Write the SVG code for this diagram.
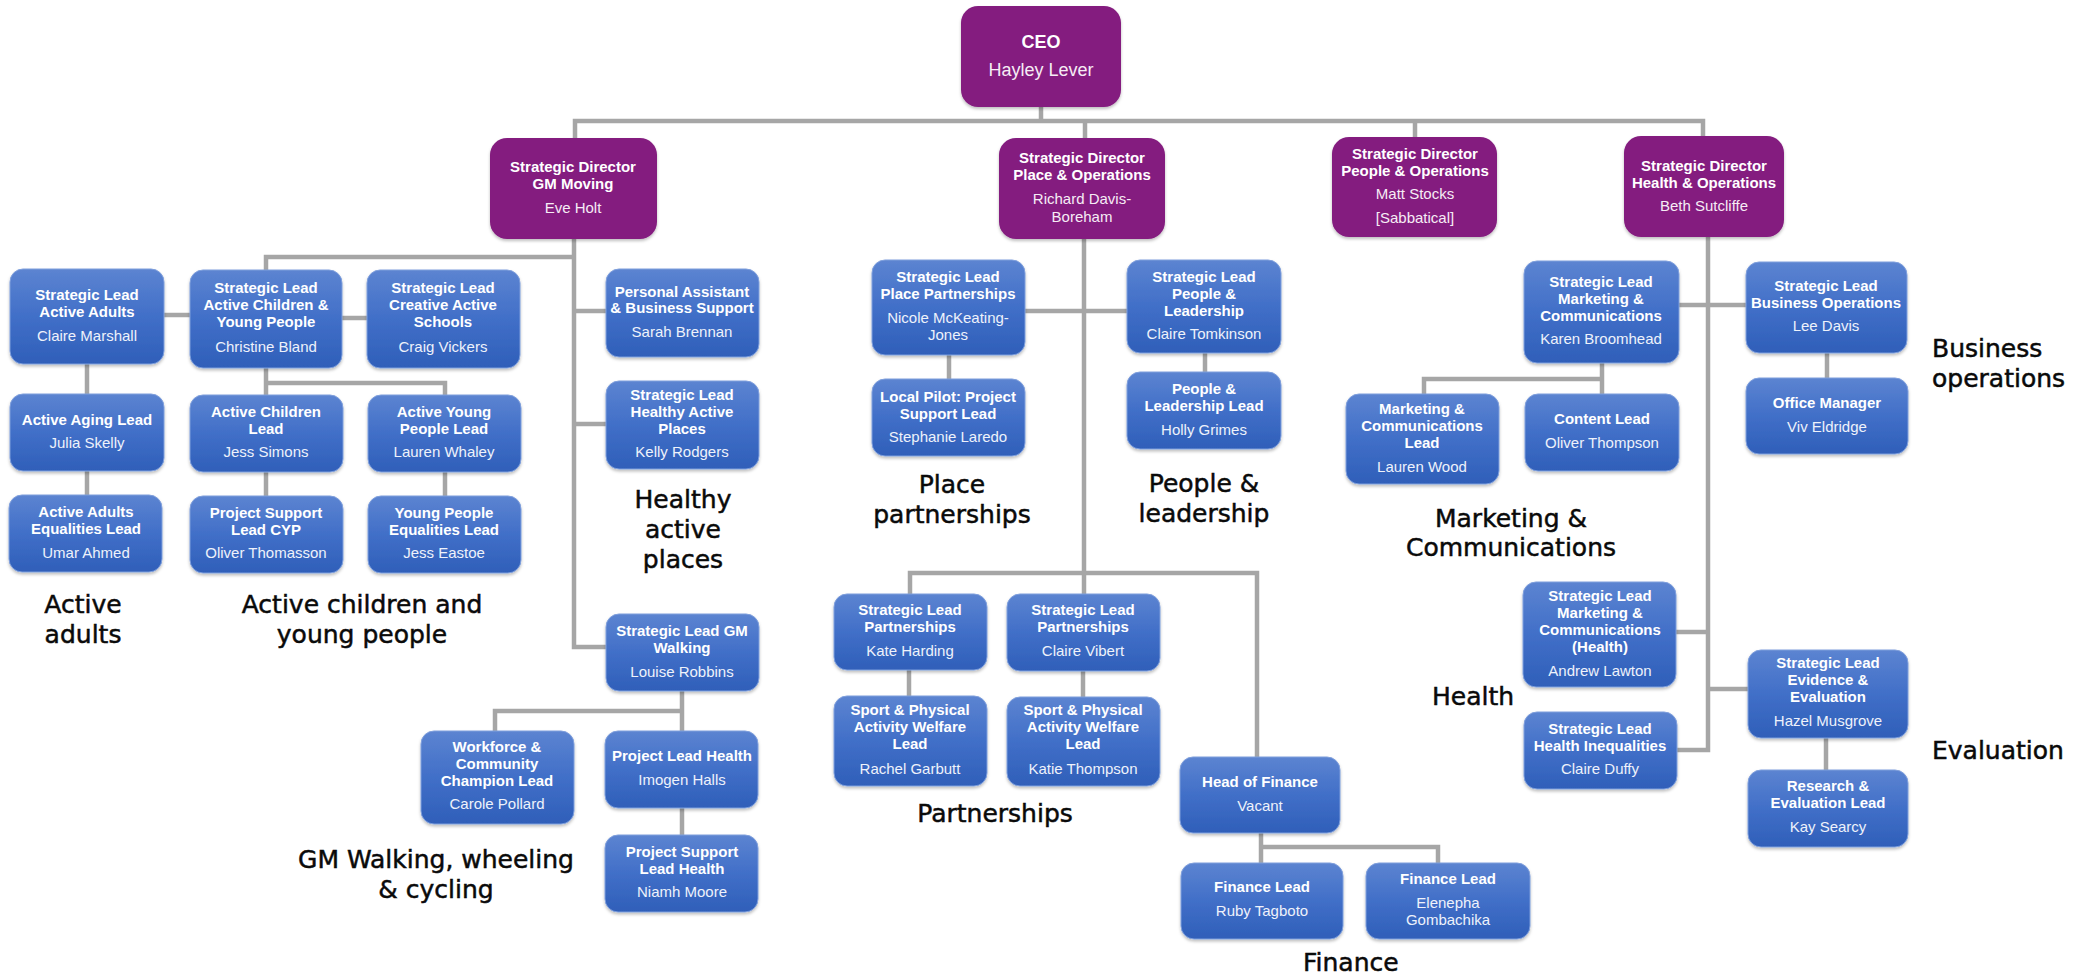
<svg xmlns="http://www.w3.org/2000/svg" width="2094" height="977" viewBox="0 0 2094 977">
<style>
.conn{fill:none;stroke:#a6a6a6;stroke-width:4.5;stroke-linejoin:miter}
.b{fill:url(#blueg);stroke:#7f9fdc;stroke-width:1;filter:url(#sh)}
.p{fill:#841e7f;filter:url(#sh)}
.t{font-family:"Liberation Sans",Arial,sans-serif;font-size:15px;font-weight:bold;fill:#ffffff;text-anchor:middle}
.n{font-family:"Liberation Sans",Arial,sans-serif;font-size:15px;fill:#eef2fb;text-anchor:middle}
.pn{font-family:"Liberation Sans",Arial,sans-serif;font-size:15px;fill:#f6ecf5;text-anchor:middle}
.lab{font-family:"DejaVu Sans","Liberation Sans",sans-serif;font-size:25px;fill:#0a0a0a;stroke:#0a0a0a;stroke-width:0.5;text-anchor:middle}
.labl{font-family:"DejaVu Sans","Liberation Sans",sans-serif;font-size:25px;fill:#0a0a0a;stroke:#0a0a0a;stroke-width:0.5;text-anchor:start}
</style>
<defs>
<linearGradient id="blueg" x1="0" y1="0" x2="0" y2="1">
<stop offset="0" stop-color="#5c84d1"/>
<stop offset="0.5" stop-color="#416fc8"/>
<stop offset="1" stop-color="#2f5fb9"/>
</linearGradient>
<filter id="sh" x="-10%" y="-10%" width="120%" height="130%">
<feDropShadow dx="0" dy="2" stdDeviation="1.5" flood-color="#000" flood-opacity="0.25"/>
</filter>
</defs>
<rect width="2094" height="977" fill="#ffffff"/>

<g id="connectors">
<path class="conn" d="M1041 107 V121"/>
<path class="conn" d="M575 138 V121 H1703 V136"/>
<path class="conn" d="M1085 121 V138"/>
<path class="conn" d="M1415 121 V137"/>
<path class="conn" d="M574 239 V647 H606"/>
<path class="conn" d="M266 270 V257 H574"/>
<path class="conn" d="M574 311 H606"/>
<path class="conn" d="M574 424 H606"/>
<path class="conn" d="M164 315 H190"/>
<path class="conn" d="M342 318 H367"/>
<path class="conn" d="M87 364 V394"/>
<path class="conn" d="M87 471 V495"/>
<path class="conn" d="M266 368 V395"/>
<path class="conn" d="M266 383 H445 V395"/>
<path class="conn" d="M266 472 V496"/>
<path class="conn" d="M445 472 V496"/>
<path class="conn" d="M682 691 V731"/>
<path class="conn" d="M682 711 H495 V731"/>
<path class="conn" d="M682 808 V835"/>
<path class="conn" d="M1084 239 V594"/>
<path class="conn" d="M1025 311 H1127"/>
<path class="conn" d="M910 594 V573 H1257 V757"/>
<path class="conn" d="M949 355 V379"/>
<path class="conn" d="M1205 353 V372"/>
<path class="conn" d="M909 670 V696"/>
<path class="conn" d="M1083 671 V697"/>
<path class="conn" d="M1261 833 V863"/>
<path class="conn" d="M1261 847 H1438 V863"/>
<path class="conn" d="M1708 237 V750 H1677"/>
<path class="conn" d="M1679 305 H1746"/>
<path class="conn" d="M1676 632 H1708"/>
<path class="conn" d="M1708 689 H1748"/>
<path class="conn" d="M1602 363 V394"/>
<path class="conn" d="M1602 379 H1424 V394"/>
<path class="conn" d="M1827 353 V378"/>
<path class="conn" d="M1826 738 V770"/>
</g>

<g id="ceo">
<rect class="p" x="961" y="6" width="160" height="101" rx="17"/>
<text class="t" x="1041" y="48" style="font-size:18px">CEO</text>
<text class="pn" x="1041" y="76" style="font-size:18px">Hayley Lever</text>
</g>
<g id="sd-gm-moving">
<rect class="p" x="490" y="138" width="167" height="101" rx="17"/>
<text class="t" x="573" y="172">Strategic Director</text>
<text class="t" x="573" y="189">GM Moving</text>
<text class="pn" x="573" y="213">Eve Holt</text>
</g>
<g id="sd-place-ops">
<rect class="p" x="999" y="138" width="166" height="101" rx="17"/>
<text class="t" x="1082" y="163">Strategic Director</text>
<text class="t" x="1082" y="180">Place &amp; Operations</text>
<text class="pn" x="1082" y="204">Richard Davis-</text>
<text class="pn" x="1082" y="222">Boreham</text>
</g>
<g id="sd-people-ops">
<rect class="p" x="1332" y="137" width="165" height="100" rx="17"/>
<text class="t" x="1415" y="159">Strategic Director</text>
<text class="t" x="1415" y="176">People &amp; Operations</text>
<text class="pn" x="1415" y="199">Matt Stocks</text>
<text class="pn" x="1415" y="223">[Sabbatical]</text>
</g>
<g id="sd-health-ops">
<rect class="p" x="1624" y="136" width="160" height="101" rx="17"/>
<text class="t" x="1704" y="171">Strategic Director</text>
<text class="t" x="1704" y="188">Health &amp; Operations</text>
<text class="pn" x="1704" y="211">Beth Sutcliffe</text>
</g>

<g id="sl-active-adults">
<rect class="b" x="10" y="269" width="154" height="95" rx="13"/>
<text class="t" x="87" y="300">Strategic Lead</text>
<text class="t" x="87" y="317">Active Adults</text>
<text class="n" x="87" y="341">Claire Marshall</text>
</g>
<g id="sl-active-children">
<rect class="b" x="190" y="270" width="152" height="98" rx="13"/>
<text class="t" x="266" y="293">Strategic Lead</text>
<text class="t" x="266" y="310">Active Children &amp;</text>
<text class="t" x="266" y="327">Young People</text>
<text class="n" x="266" y="352">Christine Bland</text>
</g>
<g id="sl-creative">
<rect class="b" x="367" y="270" width="153" height="98" rx="13"/>
<text class="t" x="443" y="293">Strategic Lead</text>
<text class="t" x="443" y="310">Creative Active</text>
<text class="t" x="443" y="327">Schools</text>
<text class="n" x="443" y="352">Craig Vickers</text>
</g>
<g id="active-aging">
<rect class="b" x="10" y="394" width="154" height="77" rx="13"/>
<text class="t" x="87" y="425">Active Aging Lead</text>
<text class="n" x="87" y="448">Julia Skelly</text>
</g>
<g id="active-adults-eq">
<rect class="b" x="9" y="495" width="153" height="77" rx="13"/>
<text class="t" x="86" y="517">Active Adults</text>
<text class="t" x="86" y="534">Equalities Lead</text>
<text class="n" x="86" y="558">Umar Ahmed</text>
</g>
<g id="active-children-lead">
<rect class="b" x="190" y="395" width="153" height="77" rx="13"/>
<text class="t" x="266" y="417">Active Children</text>
<text class="t" x="266" y="434">Lead</text>
<text class="n" x="266" y="457">Jess Simons</text>
</g>
<g id="active-young-lead">
<rect class="b" x="368" y="395" width="153" height="77" rx="13"/>
<text class="t" x="444" y="417">Active Young</text>
<text class="t" x="444" y="434">People Lead</text>
<text class="n" x="444" y="457">Lauren Whaley</text>
</g>
<g id="project-support-cyp">
<rect class="b" x="190" y="496" width="153" height="77" rx="13"/>
<text class="t" x="266" y="518">Project Support</text>
<text class="t" x="266" y="535">Lead CYP</text>
<text class="n" x="266" y="558">Oliver Thomasson</text>
</g>
<g id="young-people-eq">
<rect class="b" x="368" y="496" width="153" height="77" rx="13"/>
<text class="t" x="444" y="518">Young People</text>
<text class="t" x="444" y="535">Equalities Lead</text>
<text class="n" x="444" y="558">Jess Eastoe</text>
</g>
<g id="pa-business-support">
<rect class="b" x="606" y="269" width="153" height="88" rx="13"/>
<text class="t" x="682" y="297">Personal Assistant</text>
<text class="t" x="682" y="313">&amp; Business Support</text>
<text class="n" x="682" y="337">Sarah Brennan</text>
</g>
<g id="sl-healthy-active">
<rect class="b" x="606" y="381" width="153" height="88" rx="13"/>
<text class="t" x="682" y="400">Strategic Lead</text>
<text class="t" x="682" y="417">Healthy Active</text>
<text class="t" x="682" y="434">Places</text>
<text class="n" x="682" y="457">Kelly Rodgers</text>
</g>
<g id="sl-gm-walking">
<rect class="b" x="606" y="614" width="153" height="77" rx="13"/>
<text class="t" x="682" y="636">Strategic Lead GM</text>
<text class="t" x="682" y="653">Walking</text>
<text class="n" x="682" y="677">Louise Robbins</text>
</g>
<g id="workforce-champion">
<rect class="b" x="421" y="731" width="153" height="93" rx="13"/>
<text class="t" x="497" y="752">Workforce &amp;</text>
<text class="t" x="497" y="769">Community</text>
<text class="t" x="497" y="786">Champion Lead</text>
<text class="n" x="497" y="809">Carole Pollard</text>
</g>
<g id="project-lead-health">
<rect class="b" x="605" y="731" width="153" height="77" rx="13"/>
<text class="t" x="682" y="761">Project Lead Health</text>
<text class="n" x="682" y="785">Imogen Halls</text>
</g>
<g id="project-support-health">
<rect class="b" x="605" y="835" width="153" height="77" rx="13"/>
<text class="t" x="682" y="857">Project Support</text>
<text class="t" x="682" y="874">Lead Health</text>
<text class="n" x="682" y="897">Niamh Moore</text>
</g>
<g id="sl-place-partnerships">
<rect class="b" x="872" y="260" width="153" height="95" rx="13"/>
<text class="t" x="948" y="282">Strategic Lead</text>
<text class="t" x="948" y="299">Place Partnerships</text>
<text class="n" x="948" y="323">Nicole McKeating-</text>
<text class="n" x="948" y="340">Jones</text>
</g>
<g id="local-pilot">
<rect class="b" x="872" y="379" width="153" height="77" rx="13"/>
<text class="t" x="948" y="402">Local Pilot: Project</text>
<text class="t" x="948" y="419">Support Lead</text>
<text class="n" x="948" y="442">Stephanie Laredo</text>
</g>
<g id="sl-people-leadership">
<rect class="b" x="1127" y="260" width="154" height="93" rx="13"/>
<text class="t" x="1204" y="282">Strategic Lead</text>
<text class="t" x="1204" y="299">People &amp;</text>
<text class="t" x="1204" y="316">Leadership</text>
<text class="n" x="1204" y="339">Claire Tomkinson</text>
</g>
<g id="people-leadership-lead">
<rect class="b" x="1127" y="372" width="154" height="77" rx="13"/>
<text class="t" x="1204" y="394">People &amp;</text>
<text class="t" x="1204" y="411">Leadership Lead</text>
<text class="n" x="1204" y="435">Holly Grimes</text>
</g>
<g id="sl-partnerships-kate">
<rect class="b" x="834" y="594" width="153" height="76" rx="13"/>
<text class="t" x="910" y="615">Strategic Lead</text>
<text class="t" x="910" y="632">Partnerships</text>
<text class="n" x="910" y="656">Kate Harding</text>
</g>
<g id="sl-partnerships-claire">
<rect class="b" x="1007" y="594" width="153" height="77" rx="13"/>
<text class="t" x="1083" y="615">Strategic Lead</text>
<text class="t" x="1083" y="632">Partnerships</text>
<text class="n" x="1083" y="656">Claire Vibert</text>
</g>
<g id="welfare-rachel">
<rect class="b" x="834" y="696" width="153" height="90" rx="13"/>
<text class="t" x="910" y="715">Sport &amp; Physical</text>
<text class="t" x="910" y="732">Activity Welfare</text>
<text class="t" x="910" y="749">Lead</text>
<text class="n" x="910" y="774">Rachel Garbutt</text>
</g>
<g id="welfare-katie">
<rect class="b" x="1007" y="697" width="153" height="89" rx="13"/>
<text class="t" x="1083" y="715">Sport &amp; Physical</text>
<text class="t" x="1083" y="732">Activity Welfare</text>
<text class="t" x="1083" y="749">Lead</text>
<text class="n" x="1083" y="774">Katie Thompson</text>
</g>
<g id="head-of-finance">
<rect class="b" x="1180" y="757" width="160" height="76" rx="13"/>
<text class="t" x="1260" y="787">Head of Finance</text>
<text class="n" x="1260" y="811">Vacant</text>
</g>
<g id="finance-ruby">
<rect class="b" x="1181" y="863" width="162" height="76" rx="13"/>
<text class="t" x="1262" y="892">Finance Lead</text>
<text class="n" x="1262" y="916">Ruby Tagboto</text>
</g>
<g id="finance-elenepha">
<rect class="b" x="1366" y="863" width="164" height="76" rx="13"/>
<text class="t" x="1448" y="884">Finance Lead</text>
<text class="n" x="1448" y="908">Elenepha</text>
<text class="n" x="1448" y="925">Gombachika</text>
</g>
<g id="sl-marketing">
<rect class="b" x="1524" y="261" width="155" height="102" rx="13"/>
<text class="t" x="1601" y="287">Strategic Lead</text>
<text class="t" x="1601" y="304">Marketing &amp;</text>
<text class="t" x="1601" y="321">Communications</text>
<text class="n" x="1601" y="344">Karen Broomhead</text>
</g>
<g id="marketing-lead">
<rect class="b" x="1346" y="394" width="153" height="90" rx="13"/>
<text class="t" x="1422" y="414">Marketing &amp;</text>
<text class="t" x="1422" y="431">Communications</text>
<text class="t" x="1422" y="448">Lead</text>
<text class="n" x="1422" y="472">Lauren Wood</text>
</g>
<g id="content-lead">
<rect class="b" x="1525" y="394" width="154" height="77" rx="13"/>
<text class="t" x="1602" y="424">Content Lead</text>
<text class="n" x="1602" y="448">Oliver Thompson</text>
</g>
<g id="sl-business-ops">
<rect class="b" x="1746" y="262" width="161" height="91" rx="13"/>
<text class="t" x="1826" y="291">Strategic Lead</text>
<text class="t" x="1826" y="308">Business Operations</text>
<text class="n" x="1826" y="331">Lee Davis</text>
</g>
<g id="office-manager">
<rect class="b" x="1746" y="378" width="162" height="76" rx="13"/>
<text class="t" x="1827" y="408">Office Manager</text>
<text class="n" x="1827" y="432">Viv Eldridge</text>
</g>
<g id="sl-marketing-health">
<rect class="b" x="1523" y="582" width="153" height="105" rx="13"/>
<text class="t" x="1600" y="601">Strategic Lead</text>
<text class="t" x="1600" y="618">Marketing &amp;</text>
<text class="t" x="1600" y="635">Communications</text>
<text class="t" x="1600" y="652">(Health)</text>
<text class="n" x="1600" y="676">Andrew Lawton</text>
</g>
<g id="sl-health-inequalities">
<rect class="b" x="1524" y="712" width="153" height="77" rx="13"/>
<text class="t" x="1600" y="734">Strategic Lead</text>
<text class="t" x="1600" y="751">Health Inequalities</text>
<text class="n" x="1600" y="774">Claire Duffy</text>
</g>
<g id="sl-evidence-evaluation">
<rect class="b" x="1748" y="650" width="160" height="88" rx="13"/>
<text class="t" x="1828" y="668">Strategic Lead</text>
<text class="t" x="1828" y="685">Evidence &amp;</text>
<text class="t" x="1828" y="702">Evaluation</text>
<text class="n" x="1828" y="726">Hazel Musgrove</text>
</g>
<g id="research-evaluation-lead">
<rect class="b" x="1748" y="770" width="160" height="77" rx="13"/>
<text class="t" x="1828" y="791">Research &amp;</text>
<text class="t" x="1828" y="808">Evaluation Lead</text>
<text class="n" x="1828" y="832">Kay Searcy</text>
</g>

<g id="labels">
<text class="lab" x="83" y="613">Active</text>
<text class="lab" x="83" y="643">adults</text>
<text class="lab" x="362" y="613">Active children and</text>
<text class="lab" x="362" y="643">young people</text>
<text class="lab" x="683" y="508">Healthy</text>
<text class="lab" x="683" y="538">active</text>
<text class="lab" x="683" y="568">places</text>
<text class="lab" x="952" y="493">Place</text>
<text class="lab" x="952" y="523">partnerships</text>
<text class="lab" x="1204" y="492">People &amp;</text>
<text class="lab" x="1204" y="522">leadership</text>
<text class="lab" x="1511" y="527">Marketing &amp;</text>
<text class="lab" x="1511" y="556">Communications</text>
<text class="labl" x="1932" y="357">Business</text>
<text class="labl" x="1932" y="387">operations</text>
<text class="labl" x="1432" y="705">Health</text>
<text class="labl" x="1932" y="759">Evaluation</text>
<text class="lab" x="995" y="822">Partnerships</text>
<text class="lab" x="436" y="868">GM Walking, wheeling</text>
<text class="lab" x="436" y="898">&amp; cycling</text>
<text class="labl" x="1303" y="971">Finance</text>
</g>
</svg>
